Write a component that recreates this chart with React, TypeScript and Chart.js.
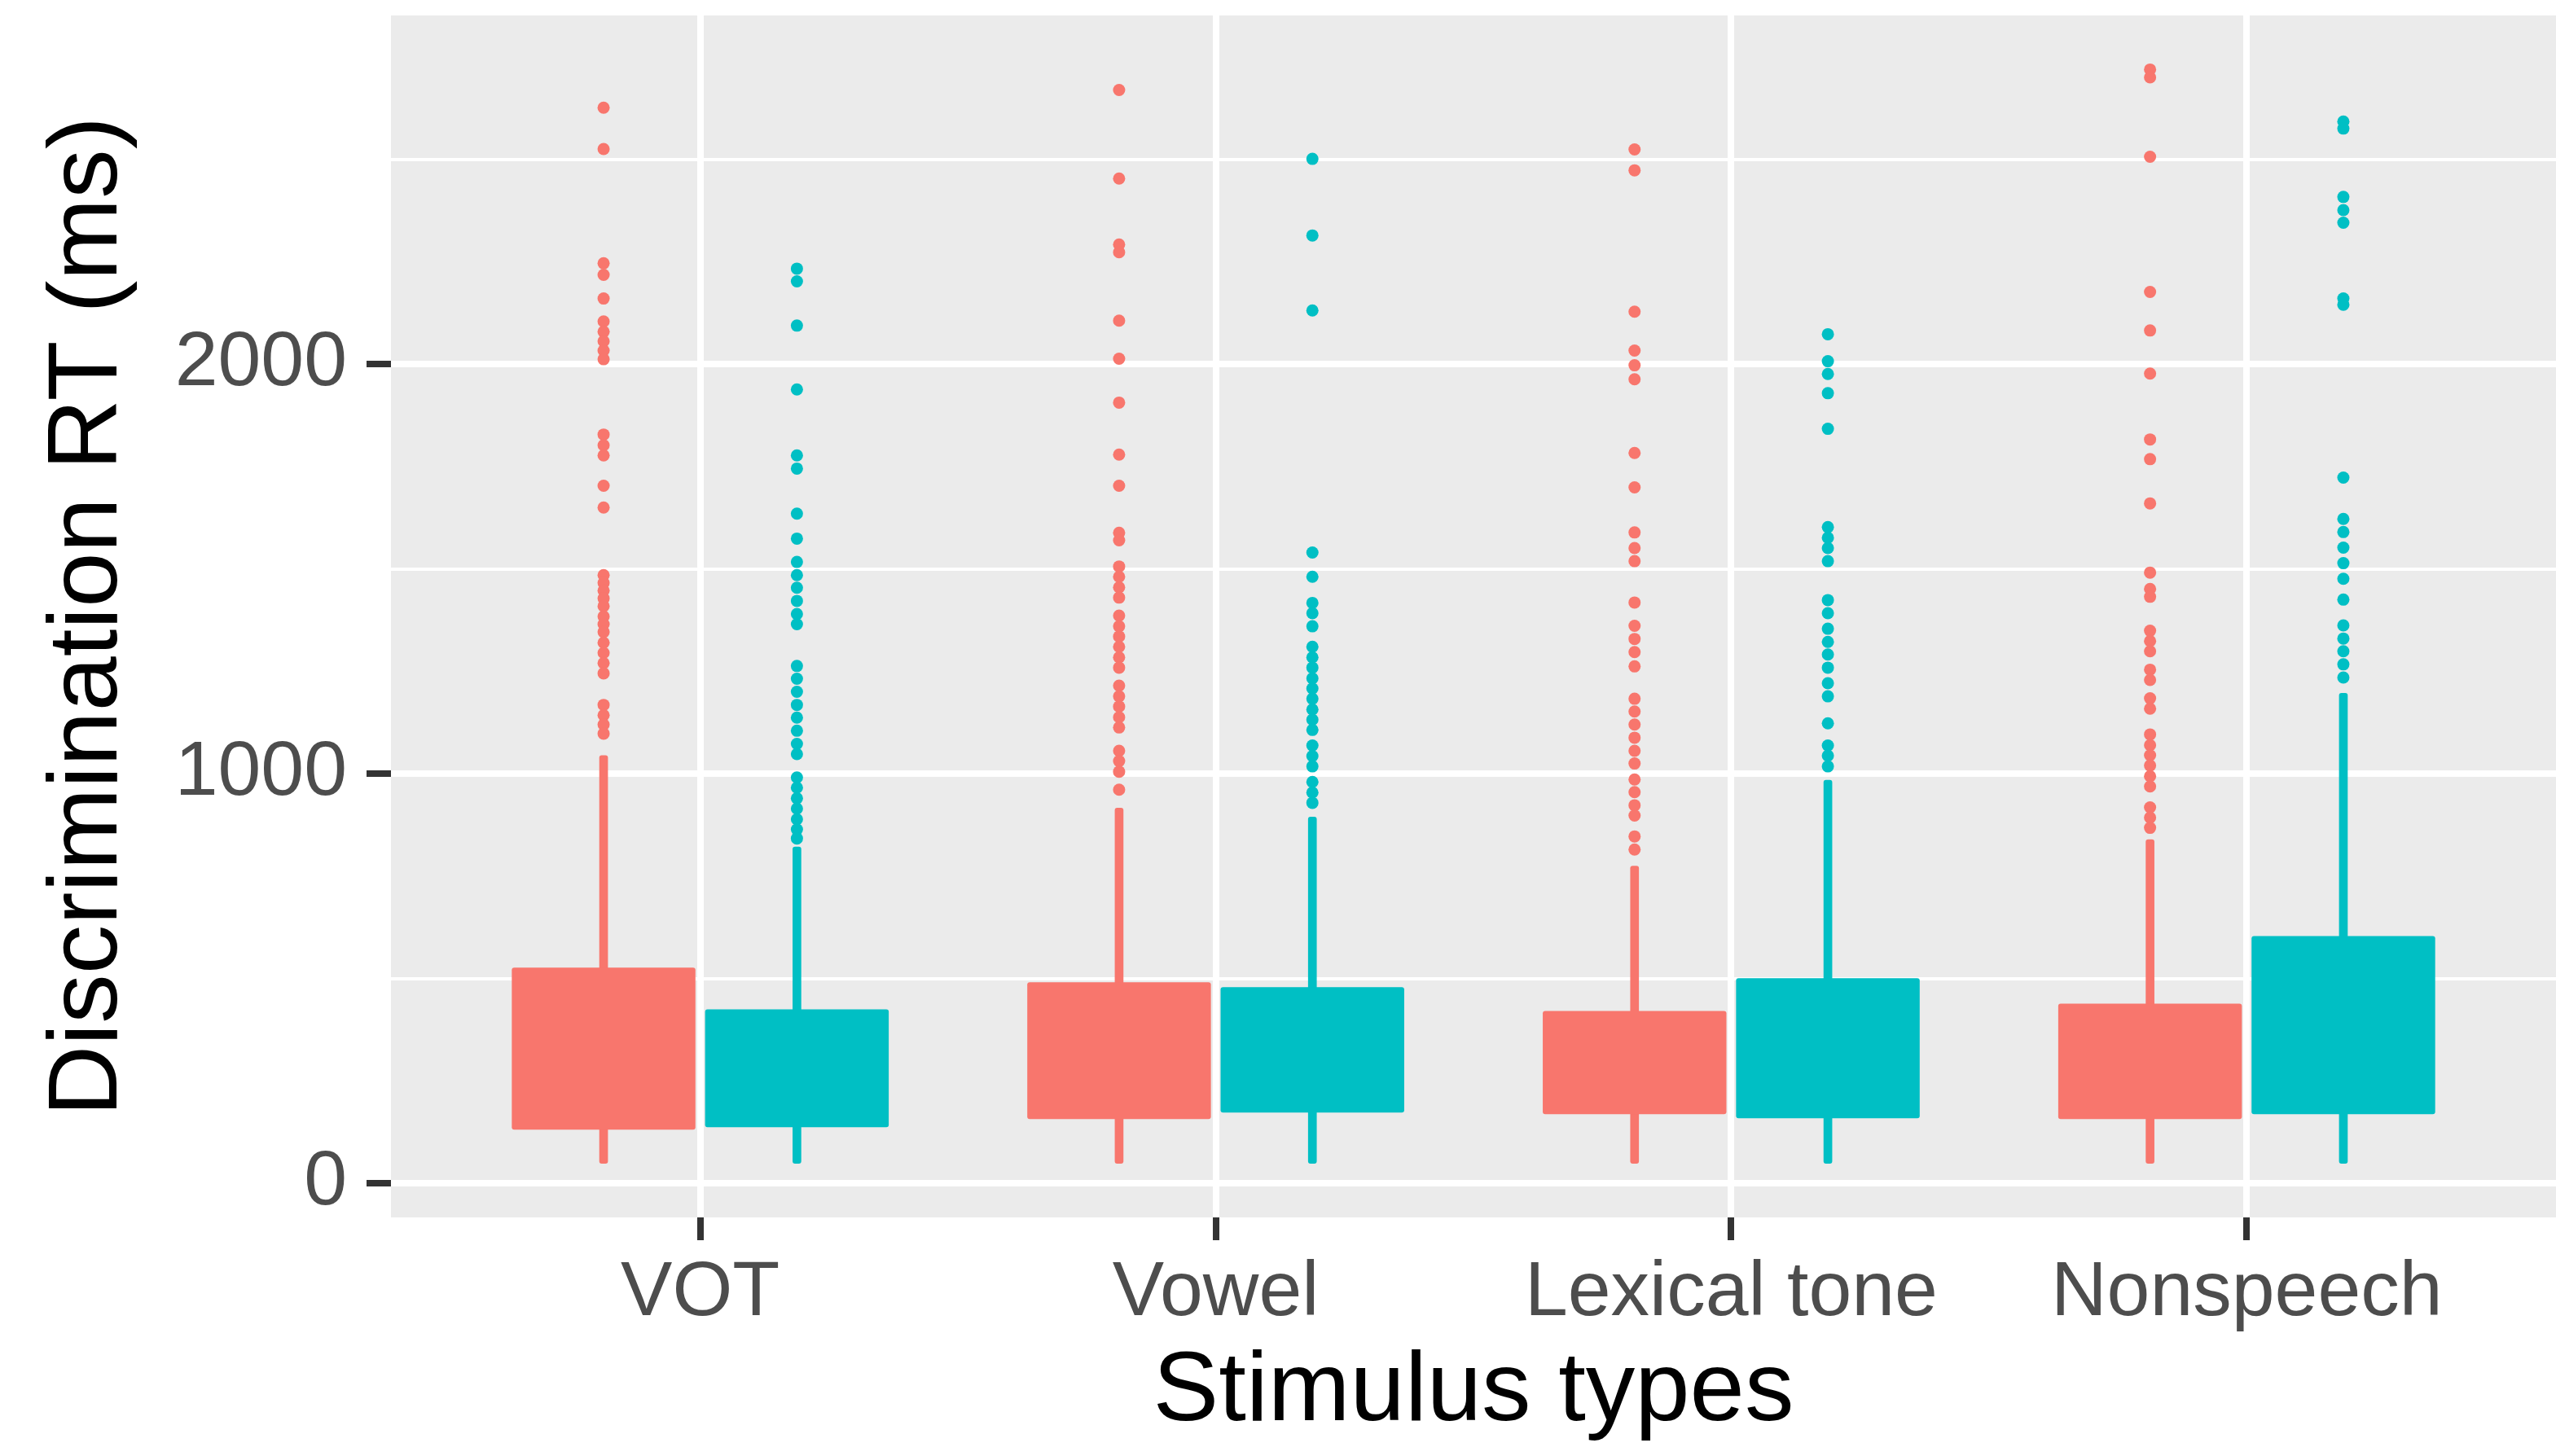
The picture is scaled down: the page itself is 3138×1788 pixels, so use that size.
import React, { useEffect, useRef } from 'react';
import { Chart, registerables } from 'chart.js';

Chart.register(...registerables);

// ---- data ----
const CATEGORIES = ['VOT', 'Vowel', 'Lexical tone', 'Nonspeech'];
const Y_TICKS = [0, 500, 1000, 1500, 2000, 2500];
const Y_LABELED = [0, 1000, 2000];

const RED_MIN = [48, 48, 48, 48];
const RED_Q1 = [131, 157, 169, 157];
const RED_Q3 = [527, 491, 421, 439];
const RED_MAX = [1045, 917, 775, 840];

const TEAL_MIN = [48, 48, 48, 48];
const TEAL_Q1 = [137, 173, 159, 169];
const TEAL_Q3 = [425, 479, 501, 604];
const TEAL_MAX = [822, 895, 985, 1197];

const RED_OUTLIERS_VOT = [2626, 2525, 2246, 2218, 2160, 2104, 2079, 2056, 2033, 2012, 1828, 1802, 1777, 1703, 1650, 1485, 1466, 1447, 1428, 1409, 1384, 1365, 1346, 1320, 1295, 1270, 1245, 1168, 1143, 1120, 1098];
const RED_OUTLIERS_VOWEL = [2669, 2453, 2292, 2273, 2106, 2013, 1906, 1779, 1703, 1588, 1570, 1506, 1481, 1455, 1430, 1386, 1360, 1335, 1310, 1284, 1259, 1215, 1189, 1164, 1138, 1113, 1056, 1031, 1005, 961];
const RED_OUTLIERS_TONE = [2524, 2473, 2128, 2033, 1997, 1963, 1783, 1699, 1589, 1551, 1519, 1418, 1361, 1329, 1297, 1262, 1183, 1152, 1120, 1088, 1056, 1025, 986, 955, 923, 898, 847, 815];
const RED_OUTLIERS_NONSPEECH = [2719, 2700, 2506, 2176, 2082, 1977, 1816, 1768, 1660, 1491, 1451, 1432, 1349, 1324, 1299, 1254, 1229, 1184, 1159, 1096, 1070, 1045, 1020, 994, 969, 918, 893, 868];

const TEAL_OUTLIERS_VOT = [2233, 2202, 2094, 1938, 1777, 1745, 1635, 1574, 1517, 1485, 1454, 1422, 1390, 1365, 1263, 1232, 1200, 1168, 1137, 1105, 1073, 1048, 991, 966, 940, 915, 889, 864, 842];
const TEAL_OUTLIERS_VOWEL = [2501, 2314, 2131, 1540, 1481, 1417, 1392, 1360, 1310, 1284, 1259, 1233, 1208, 1183, 1157, 1132, 1107, 1069, 1043, 1018, 980, 954, 929];
const TEAL_OUTLIERS_TONE = [2073, 2007, 1976, 1929, 1842, 1602, 1576, 1551, 1519, 1424, 1392, 1354, 1322, 1291, 1259, 1221, 1189, 1123, 1069, 1044, 1018];
const TEAL_OUTLIERS_NONSPEECH = [2592, 2575, 2408, 2376, 2345, 2160, 2145, 1723, 1622, 1590, 1552, 1514, 1476, 1425, 1362, 1330, 1299, 1267, 1235];

const RED_OUTLIERS = [RED_OUTLIERS_VOT, RED_OUTLIERS_VOWEL, RED_OUTLIERS_TONE, RED_OUTLIERS_NONSPEECH];
const TEAL_OUTLIERS = [TEAL_OUTLIERS_VOT, TEAL_OUTLIERS_VOWEL, TEAL_OUTLIERS_TONE, TEAL_OUTLIERS_NONSPEECH];

// ---- style ----
const RED = '#F8766D';
const TEAL = '#00BFC4';
const DODGE_WIDTH = 0.75;
const DODGE = DODGE_WIDTH / 4; // centre offset of each of the two dodged boxes
const FONT = "'Liberation Sans', Arial, Helvetica, sans-serif";

const panelBg = {
  id: 'panelBg',
  beforeDraw(chart: any) {
    const { ctx, chartArea: a } = chart;
    ctx.save();
    ctx.fillStyle = '#EBEBEB';
    ctx.fillRect(a.left, a.top, a.right - a.left, a.bottom - a.top);
    ctx.restore();
  },
};

export default function App() {
  const ref = useRef<HTMLCanvasElement | null>(null);

  useEffect(() => {
    if (!ref.current) return;
    const boxData = (q1: number[], q3: number[]) => CATEGORIES.map((_, i) => ({ x: i + 1, y: [q1[i], q3[i]] }));
    const outData = (groups: number[][], off: number) =>
      groups.flatMap((vals, i) => vals.map((v) => ({ x: i + 1 + off, y: v })));

    const barCommon = {
      type: 'bar',
      borderWidth: 0,
      borderRadius: 3,
      borderSkipped: false,
      categoryPercentage: DODGE_WIDTH,
    };

    const chart = new Chart(ref.current, {
      type: 'bar',
      data: {
        datasets: [
          { ...barCommon, label: 'g1 box', data: boxData(RED_Q1, RED_Q3), backgroundColor: RED, stack: 'g1', order: 0, barPercentage: 0.95 },
          { ...barCommon, label: 'g2 box', data: boxData(TEAL_Q1, TEAL_Q3), backgroundColor: TEAL, stack: 'g2', order: 0, barPercentage: 0.95 },
          { ...barCommon, label: 'g1 whisker', data: boxData(RED_MIN, RED_MAX), backgroundColor: RED, stack: 'g1', order: 1, barPercentage: 0.045 },
          { ...barCommon, label: 'g2 whisker', data: boxData(TEAL_MIN, TEAL_MAX), backgroundColor: TEAL, stack: 'g2', order: 1, barPercentage: 0.045 },
          {
            type: 'scatter',
            label: 'g1 outliers',
            data: outData(RED_OUTLIERS, -DODGE),
            backgroundColor: RED,
            borderWidth: 0,
            pointRadius: 7.5,
            order: 2,
          },
          {
            type: 'scatter',
            label: 'g2 outliers',
            data: outData(TEAL_OUTLIERS, DODGE),
            backgroundColor: TEAL,
            borderWidth: 0,
            pointRadius: 7.5,
            order: 2,
          },
        ] as any,
      },
      options: {
        responsive: false,
        animation: false,
        devicePixelRatio: 1,
        layout: { autoPadding: false, padding: { top: 19, right: 0, bottom: 0, left: 0 } },
        plugins: { legend: { display: false }, tooltip: { enabled: false } },
        scales: {
          x: {
            type: 'linear',
            min: 0.4,
            max: 4.6,
            offset: false,
            afterBuildTicks: (scale: any) => {
              scale.ticks = CATEGORIES.map((_, i) => ({ value: i + 1 }));
            },
            afterFit: (scale: any) => {
              scale.height = 293;
              scale.paddingLeft = 0;
              scale.paddingRight = 0;
            },
            border: { display: false },
            grid: {
              offset: false,
              color: '#FFFFFF',
              lineWidth: 8,
              drawTicks: true,
              tickLength: 28,
              tickColor: '#333333',
              tickWidth: 8,
            },
            ticks: {
              autoSkip: false,
              maxRotation: 0,
              padding: 9,
              color: '#4D4D4D',
              font: { family: FONT, size: 95 },
              callback: (v: any) => CATEGORIES[Math.round(Number(v)) - 1] ?? '',
            },
            title: {
              display: true,
              text: 'Stimulus types',
              color: '#000000',
              font: { family: FONT, size: 121 },
              padding: { top: 0, bottom: 5 },
            },
          },
          y: {
            type: 'linear',
            min: -83,
            max: 2851,
            stacked: false,
            afterBuildTicks: (scale: any) => {
              scale.ticks = Y_TICKS.map((v) => ({ value: v }));
            },
            afterFit: (scale: any) => {
              scale.width = 480;
              scale.paddingTop = 0;
              scale.paddingBottom = 0;
            },
            border: { display: false },
            grid: {
              color: '#FFFFFF',
              lineWidth: (ctx: any) => (Y_LABELED.includes(ctx.tick?.value) ? 8 : 4),
              drawTicks: true,
              tickLength: 30,
              tickColor: (ctx: any) => (Y_LABELED.includes(ctx.tick?.value) ? '#333333' : 'rgba(0,0,0,0)'),
              tickWidth: 8,
            },
            ticks: {
              padding: 24,
              color: '#4D4D4D',
              font: { family: FONT, size: 95 },
              callback: (v: any) => (Y_LABELED.includes(Number(v)) ? String(v) : ''),
            },
            title: {
              display: true,
              text: 'Discrimination RT (ms)',
              color: '#000000',
              font: { family: FONT, size: 121 },
              padding: { top: 37, bottom: 0 },
            },
          },
        },
      } as any,
      plugins: [panelBg],
    });

    return () => chart.destroy();
  }, []);

  return (
    <div style={{ position: 'fixed', left: 0, top: 0, width: 3138, height: 1788, background: '#FFFFFF' }}>
      <canvas ref={ref} width={3138} height={1788} style={{ display: 'block', width: 3138, height: 1788 }} />
    </div>
  );
}
